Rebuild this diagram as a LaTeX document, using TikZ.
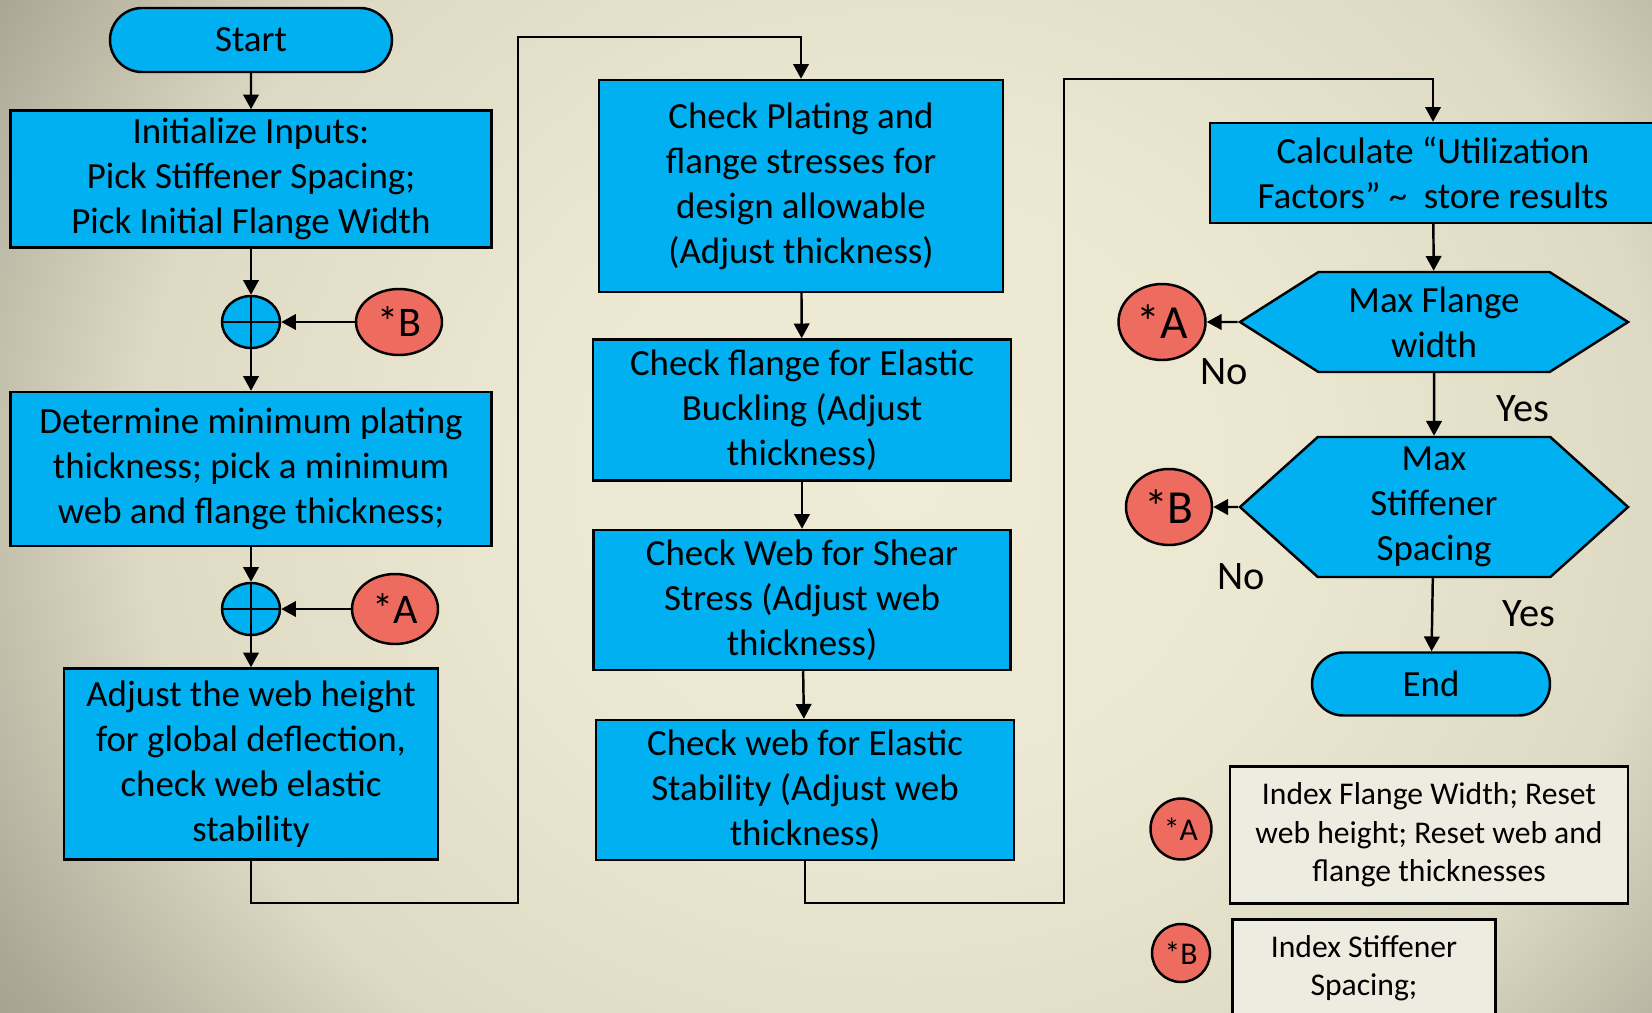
\documentclass[tikz,border=0pt]{standalone}
\usepackage{fontspec}
\setmainfont{Carlito}
\usetikzlibrary{arrows.meta,shapes.geometric,shapes.misc,shapes.symbols}

\definecolor{boxblue}{HTML}{00B0F0}
\definecolor{refred}{HTML}{EE6B5F}
\definecolor{notecream}{HTML}{EEECE1}
\definecolor{bglight}{HTML}{EFEBD4}
\definecolor{bgdark}{HTML}{9E9B8A}
\pgfdeclareradialshading{bgglow}{\pgfpoint{0bp}{0bp}}{color(0bp)=(bglight); color(10.6bp)=(bglight!95!bgdark); color(21.2bp)=(bglight!78!bgdark); color(29bp)=(bglight!15!bgdark); color(32.6bp)=(bgdark); color(50bp)=(bgdark)}

\begin{document}
\begin{tikzpicture}

\tikzstyle{every node}=[line width=0.7pt,inner sep=1pt,align=center,font=\fontsize{10.5}{12.8}\selectfont];
\tikzstyle{procbox}=[draw,rectangle,fill=boxblue];
\tikzstyle{termnode}=[draw,rounded rectangle,fill=boxblue];
\tikzstyle{decnode}=[draw,signal,signal to=west and east,fill=boxblue];
\tikzstyle{sumnode}=[draw,ellipse,fill=boxblue,minimum width=0.58cm,minimum height=0.52cm,inner sep=0pt];
\tikzstyle{refnode}=[draw,ellipse,fill=refred,inner sep=0pt];
\tikzstyle{notebox}=[draw,rectangle,fill=notecream,font=\fontsize{9}{10.9}\selectfont];
\tikzstyle{answer}=[font=\fontsize{11.5}{14}\selectfont];
\tikzstyle{flow}=[line width=0.7pt,-{Triangle[length=4.2pt,width=4.4pt]}];

\useasboundingbox (0,0) rectangle (16.52,10.12);

% Background
\begin{scope}
\clip (0,0) rectangle (16.52,10.12);
\shade[shading=bgglow] (0,-2.68) rectangle (18,13.32);
\end{scope}

% Left column
\node[termnode,minimum width=2.89cm,minimum height=0.64cm] (start) at (2.51,9.72) {Start};
\node[procbox,minimum width=4.81cm,minimum height=1.37cm] (init) at (2.51,8.33) {Initialize Inputs:\\Pick Stiffener Spacing;\\Pick Initial Flange Width};
\node[sumnode] (sumB) at (2.51,6.90) {};
\node[refnode,minimum width=0.86cm,minimum height=0.66cm,font=\fontsize{12}{14}\selectfont] (refB) at (3.99,6.90) {*B};
\node[procbox,minimum width=4.81cm,minimum height=1.54cm] (minthk) at (2.51,5.43) {Determine minimum plating\\thickness; pick a minimum\\web and flange thickness;};
\node[sumnode] (sumA) at (2.51,4.03) {};
\node[refnode,minimum width=0.86cm,minimum height=0.70cm,font=\fontsize{12}{14}\selectfont] (refA) at (3.95,4.03) {*A};
\node[procbox,minimum width=3.74cm,minimum height=1.91cm] (webht) at (2.51,2.48) {Adjust the web height\\for global deflection,\\check web elastic\\stability};

% Middle column
\node[procbox,minimum width=4.04cm,minimum height=2.12cm] (plating) at (8.01,8.26) {Check Plating and\\flange stresses for\\design allowable\\(Adjust thickness)};
\node[procbox,minimum width=4.18cm,minimum height=1.41cm] (flbuck) at (8.02,6.02) {Check flange for Elastic\\Buckling (Adjust\\thickness)};
\node[procbox,minimum width=4.17cm,minimum height=1.40cm] (shear) at (8.02,4.12) {Check Web for Shear\\Stress (Adjust web\\thickness)};
\node[procbox,minimum width=4.18cm,minimum height=1.40cm] (webel) at (8.05,2.22) {Check web for Elastic\\Stability (Adjust web\\thickness)};

% Right column
\node[procbox,minimum width=4.46cm,minimum height=1.00cm] (util) at (14.33,8.39) {Calculate “Utilization\\Factors” \textasciitilde\ \ store results};
\node[decnode,signal pointer angle=65,minimum width=3.88cm,minimum height=1.00cm] (maxfl) at (14.34,6.90) {Max Flange\\width};
\node[refnode,minimum width=0.87cm,minimum height=0.76cm,font=\fontsize{13.5}{16}\selectfont] (refA2) at (11.62,6.90) {*A};
\node[decnode,signal pointer angle=84,minimum width=3.88cm,minimum height=1.40cm] (maxsp) at (14.34,5.05) {Max\\Stiffener\\Spacing};
\node[refnode,minimum width=0.86cm,minimum height=0.76cm,font=\fontsize{13.5}{16}\selectfont] (refB2) at (11.69,5.05) {*B};
\node[termnode,minimum width=2.45cm,minimum height=0.63cm] (stop) at (14.31,3.28) {End};
\node[answer] (noA) at (12.24,6.40) {No};
\node[answer] (yesA) at (15.23,6.03) {Yes};
\node[answer] (noB) at (12.41,4.35) {No};
\node[answer] (yesB) at (15.29,3.98) {Yes};

% Key
\node[refnode,minimum size=0.61cm,font=\fontsize{9}{11}\selectfont] (keyA) at (11.81,1.83) {*A};
\node[notebox,minimum width=3.98cm,minimum height=1.37cm] (noteA) at (14.29,1.77) {Index Flange Width; Reset\\web height; Reset web and\\flange thicknesses};
\node[refnode,minimum size=0.58cm,font=\fontsize{9}{11}\selectfont] (keyB) at (11.81,0.59) {*B};
\node[notebox,minimum width=2.63cm,minimum height=0.97cm] (noteB) at (13.64,0.44) {Index Stiffener\\Spacing;};

% Route points
\coordinate (r1) at (5.18,1.09);
\coordinate (r2) at (5.18,9.75);
\coordinate (r3) at (10.64,1.09);
\coordinate (r4) at (10.64,9.33);

% Links between the nodes
\draw[flow] (start) -- (init);
\draw[flow] (init) -- (sumB);
\draw[flow] (refB) -- (sumB);
\draw[flow] (sumB) -- (minthk);
\draw[flow] (minthk) -- (sumA);
\draw[flow] (refA) -- (sumA);
\draw[flow] (sumA) -- (webht);
\draw[line width=0.7pt] (sumB.north) -- (sumB.south) (sumB.west) -- (sumB.east)
  (sumA.north) -- (sumA.south) (sumA.west) -- (sumA.east);

\draw[flow] (webht) |- (r1) -- (r2) -| (plating);
\draw[flow] (plating) -- (flbuck);
\draw[flow] (flbuck) -- (shear);
\draw[flow] (shear) -- (webel);
\draw[flow] (webel) |- (r3) -- (r4) -| (util);

\draw[flow] (util) -- (maxfl);
\draw[flow] (maxfl) -- (refA2);
\draw[flow] (maxfl) -- (maxsp);
\draw[flow] (maxsp) -- (refB2);
\draw[flow] (maxsp) -- (stop);

\end{tikzpicture}
\end{document}
